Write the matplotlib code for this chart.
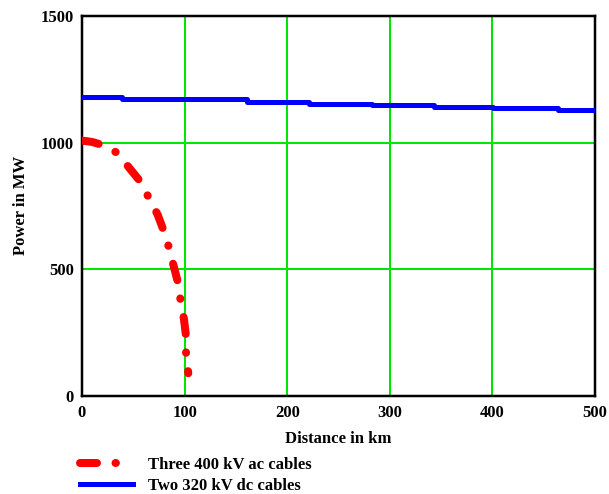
import matplotlib
matplotlib.use("Agg")
import matplotlib.pyplot as plt

# --- data ---
# three 400 kV ac cables (dash-dot trace)
ac_km = [0, 5, 10, 17.5, 33, 45, 55, 64.6, 73.8, 79.9, 85.1, 89.7, 93.9,
         96.2, 99.4, 101.4, 101.4, 103.6]
ac_mw = [1007, 1005, 1002, 993, 962, 905, 855, 786, 714, 648, 580, 506, 441,
         371, 301, 233, 167, 88]

# two 320 kV dc cables (step trace)
dc_km = [0, 39, 161, 221, 283, 343, 401, 464, 500]
dc_mw = [1178, 1170, 1162, 1154, 1148, 1142, 1137, 1128, 1128]

x_ticks = [0, 100, 200, 300, 400, 500]
y_ticks = [0, 500, 1000, 1500]

plt.rcParams['font.family'] = ['Liberation Serif', 'DejaVu Serif']
plt.rcParams['font.weight'] = 'bold'
plt.rcParams['axes.labelweight'] = 'bold'
plt.rcParams['font.size'] = 12

fig = plt.figure(figsize=(6.09, 4.94), dpi=100)
ax = fig.add_axes([82 / 609, 1 - 395.5 / 494, 513 / 609, 379.5 / 494])

# line widths in pixels -> points
px = 72 / 100
red_lw = 8 * px
dash = [17 / 8, 18.5 / 8, 0.05, 18.5 / 8]

ax.plot(ac_km, ac_mw, color='#ff0000', lw=red_lw, dashes=dash,
        dash_capstyle='round', solid_capstyle='round',
        label='Three 400 kV ac cables', zorder=3)
ax.step(dc_km, dc_mw, where='post', color='#0000ff', lw=5 * px,
        label='Two 320 kV dc cables', zorder=3)

ax.set_xlim(0, 500)
ax.set_ylim(0, 1500)
ax.set_xticks(x_ticks)
ax.set_yticks(y_ticks)
ax.tick_params(axis='x', length=0, pad=7, labelsize=12)
ax.tick_params(axis='y', length=0, pad=6, labelsize=12)
ax.grid(True, color='#00e600', lw=2 * px, zorder=1)
ax.set_axisbelow(True)
for s in ax.spines.values():
    s.set_linewidth(2.5 * px)

ax.set_xlabel('Distance in km', fontsize=12, labelpad=7)
ax.set_ylabel('Power in MW', fontsize=12, labelpad=8)

leg = fig.legend(loc='upper left', bbox_to_anchor=(80 / 609, 1 - 457 / 494),
                 frameon=False, borderpad=0, borderaxespad=0,
                 handlelength=3.2, handletextpad=0.85, labelspacing=0.28,
                 fontsize=12)

fig.savefig('out.png', dpi=100)
